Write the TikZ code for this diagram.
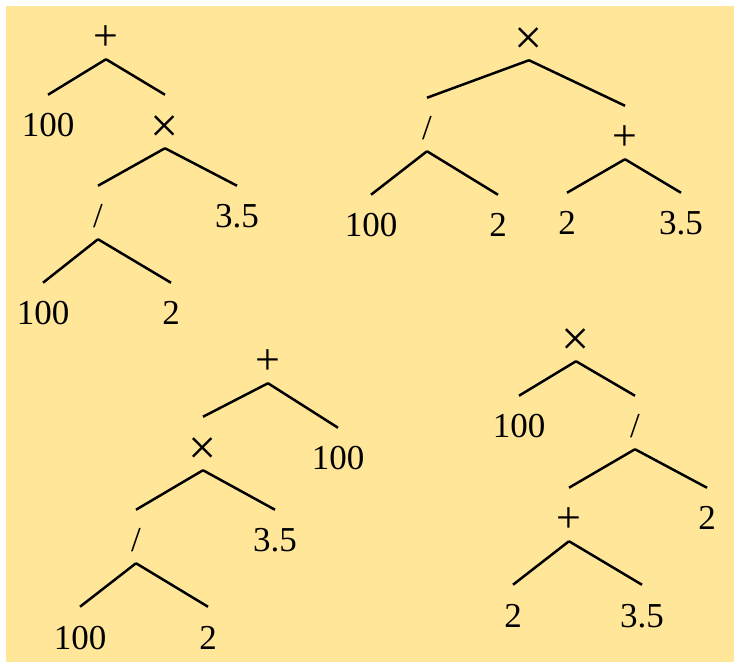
\documentclass[tikz,border=0pt]{standalone}
\usepackage{fontspec}
\setmainfont{Liberation Serif}
\usepackage{xcolor}
\definecolor{bgyellow}{RGB}{255,230,153}
\newcommand{\optimes}{\raisebox{-3pt}{×}}
\newcommand{\opplus}{\raisebox{-1.5pt}{+}}

\begin{document}
\begin{tikzpicture}[
  x=0.5pt, y=-0.5pt,
  tn/.style={inner sep=0pt, anchor=base, text height=20.5pt, text depth=5pt,
    font=\fontsize{17.5}{20}\selectfont},
  plus/.style={tn, font=\fontsize{22}{24}\selectfont},
  times/.style={tn, font=\fontsize{25}{27}\selectfont},
  every path/.style={line width=1.25pt},
]
\useasboundingbox (0,0) rectangle (734,662);
\fill[bgyellow] (6,6) rectangle (734,662);
% tree 1: 100 + ((100 / 2) x 3.5)
\node[plus] (ap) at (106,48) {\opplus};
\node[tn] (a100) at (48,137) {100};
\node[times] (at) at (165,137) {\optimes};
\node[tn] (ad) at (98,228) {/};
\node[tn] (a35) at (237,228) {3.5};
\node[tn] (a100b) at (43,325) {100};
\node[tn] (a2) at (171,325) {2};
% tree 2: (100 / 2) x (2 + 3.5)
\node[times] (bt) at (529,49) {\optimes};
\node[tn] (bd) at (427,140) {/};
\node[plus] (bp) at (625,148) {\opplus};
\node[tn] (b100) at (371,237) {100};
\node[tn] (b2) at (498,237) {2};
\node[tn] (b2b) at (567,235) {2};
\node[tn] (b35) at (681,235) {3.5};
% tree 3: ((100 / 2) x 3.5) + 100
\node[plus] (cp) at (268,372) {\opplus};
\node[times] (ct) at (203,459) {\optimes};
\node[tn] (c100) at (338,470) {100};
\node[tn] (cd) at (136,552) {/};
\node[tn] (c35) at (275,552) {3.5};
\node[tn] (c100b) at (80,649) {100};
\node[tn] (c2) at (208,649) {2};
% tree 4: 100 x ((2 + 3.5) / 2)
\node[times] (dt) at (576,350) {\optimes};
\node[tn] (d100) at (519,438) {100};
\node[tn] (dd) at (635,438) {/};
\node[plus] (dp) at (569,530) {\opplus};
\node[tn] (d2) at (707,530) {2};
\node[tn] (d2b) at (513,627) {2};
\node[tn] (d35) at (642,627) {3.5};
% edges
\foreach \p/\c in {ap/a100, ap/at, at/ad, at/a35, ad/a100b, ad/a2,
    bt/bd, bt/bp, bd/b100, bd/b2, bp/b2b, bp/b35,
    cp/ct, cp/c100, ct/cd, ct/c35, cd/c100b, cd/c2,
    dt/d100, dt/dd, dd/dp, dd/d2, dp/d2b, dp/d35}
  \draw (\p.south) -- (\c.north);
\end{tikzpicture}
\end{document}
